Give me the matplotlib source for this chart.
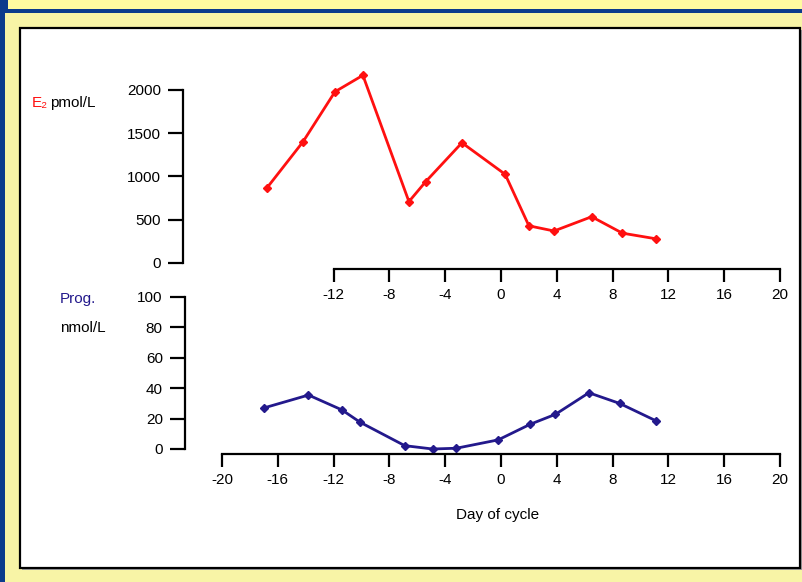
import matplotlib
matplotlib.use("Agg")
import matplotlib.pyplot as plt
from matplotlib.patches import Rectangle

# dados
e2_days = [-16.8, -14.2, -11.9, -9.9, -6.6, -5.4, -2.8, 0.3, 2.0, 3.8, 6.5, 8.7, 11.1]
e2_vals = [864, 1400, 1980, 2170, 710, 940, 1390, 1025, 430, 370, 535, 345, 280]
prog_days = [-17.0, -13.8, -11.4, -10.1, -6.9, -4.9, -3.2, -0.2, 2.1, 3.9, 6.3, 8.5, 11.1]
prog_vals = [27, 35.5, 25.7, 17.6, 2.2, 0, 0.5, 6, 16.3, 22.8, 37, 30, 18.6]
e2_yticks = [0, 500, 1000, 1500, 2000]
prog_yticks = [0, 20, 40, 60, 80, 100]
x_ticks_top = [-12, -8, -4, 0, 4, 8, 12, 16, 20]
x_ticks_bot = [-20, -16, -12, -8, -4, 0, 4, 8, 12, 16, 20]

RED = "#ff1010"
BLUE = "#23198c"
YEL = "#f8f4a6"
NAVY = "#0b3b8c"
FONT = ["Liberation Sans Narrow", "Liberation Sans", "DejaVu Sans"]
plt.rcParams["font.family"] = FONT
FS = 11

W, H = 802, 582
fig = plt.figure(figsize=(W / 100, H / 100), dpi=100, facecolor=YEL)


def px(x, y, w, h):
    # pixel box (top-left origin) -> figure fraction
    return (x / W, 1 - (y + h) / H, w / W, h / H)


def rect(x, y, w, h, **kw):
    l, b, ww, hh = px(x, y, w, h)
    fig.patches.append(Rectangle((l, b), ww, hh, transform=fig.transFigure,
                                 zorder=-5, **kw))


# moldura
rect(8, 0, W - 8, 9, color="#fffba0", lw=0)
rect(0, 0, 5, H, color=NAVY, lw=0)
rect(0, 0, 8, 9, color=NAVY, lw=0)
rect(0, 9, W, 4, color=NAVY, lw=0)
rect(22, 30, W - 21, 540, color="#a0a0a0", lw=0)
rect(20, 28, W - 22, 540, facecolor="white", edgecolor="black", lw=1.6)


def style(ax, xb, yoff, xoff, xticks, yticks, ylim):
    ax.set_facecolor("none")
    ax.set_xlim(-20, 20)
    ax.set_ylim(*ylim)
    for s in ("top", "right"):
        ax.spines[s].set_visible(False)
    ax.spines["left"].set_position(("outward", yoff))
    ax.spines["bottom"].set_position(("outward", xoff))
    ax.spines["left"].set_bounds(ylim[0], ylim[1])
    ax.spines["bottom"].set_bounds(xb[0], xb[1])
    for s in ("left", "bottom"):
        ax.spines[s].set_linewidth(1.6)
    ax.set_xticks(xticks)
    ax.set_yticks(yticks)
    ax.set_xticklabels([str(t) for t in xticks])
    ax.set_yticklabels([str(t) for t in yticks])
    ax.tick_params(axis="y", length=11, width=1.6, pad=5, labelsize=FS)
    ax.tick_params(axis="x", length=9, width=1.6, pad=5, labelsize=FS)


ax1 = fig.add_axes(px(222, 90, 558, 173))
ax1.plot(e2_days, e2_vals, color=RED, lw=2, marker="D", ms=4.5, clip_on=False)
style(ax1, (-12, 20), 28, 4.3, x_ticks_top, e2_yticks, (0, 2000))

ax2 = fig.add_axes(px(222, 297, 558, 152))
ax2.plot(prog_days, prog_vals, color=BLUE, lw=2, marker="D", ms=4.5, clip_on=False)
style(ax2, (-20, 20), 26.6, 3.6, x_ticks_bot, prog_yticks, (0, 100))

# rótulos
fig.text(32 / W, 1 - 103 / H, "E\u2082", color=RED, fontsize=FS, va="center")
fig.text(50 / W, 1 - 103 / H, "pmol/L", color="black", fontsize=FS, va="center")
fig.text(60 / W, 1 - 299 / H, "Prog.", color=BLUE, fontsize=FS, va="center")
fig.text(60 / W, 1 - 328 / H, "nmol/L", color="black", fontsize=FS, va="center")
fig.text(498 / W, 1 - 515 / H, "Day of cycle", color="black", fontsize=FS,
         ha="center", va="center")

fig.savefig("out.png", dpi=100, facecolor=YEL)
